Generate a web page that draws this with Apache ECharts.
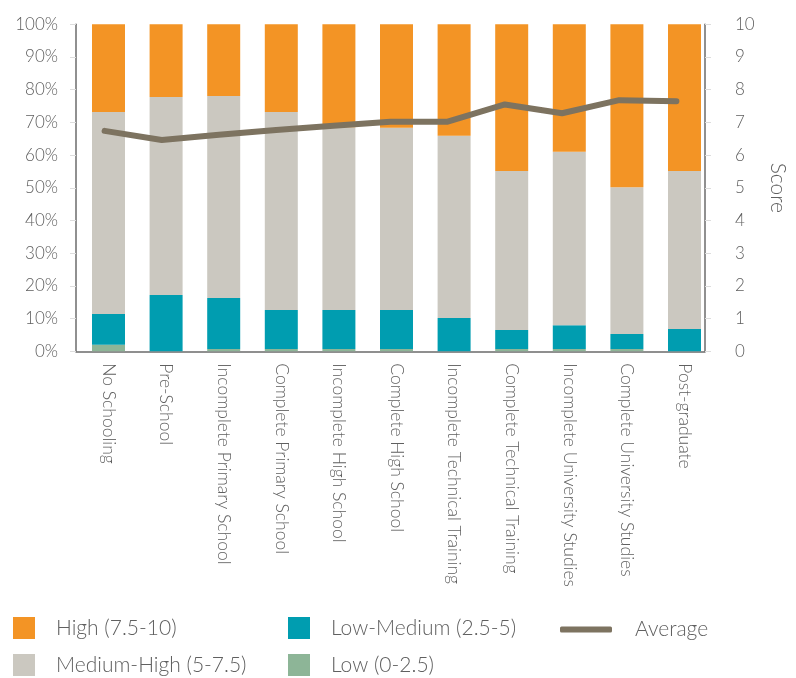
<!DOCTYPE html>
<html>
<head>
<meta charset="utf-8">
<script src="https://cdn.jsdelivr.net/npm/echarts@6/dist/echarts.min.js"></script>
<style>
  html, body { margin: 0; padding: 0; background: #fff; }
  #chart { width: 796px; height: 678px; }
</style>
</head>
<body>
<div id="chart"></div>
<script>
// Education levels
const categories = [
  'No Schooling', 'Pre-School', 'Incomplete Primary School', 'Complete Primary School',
  'Incomplete High School', 'Complete High School', 'Incomplete Technical Training',
  'Complete Technical Training', 'Incomplete University Studies',
  'Complete University Studies', 'Post-graduate'
];

// Share of respondents per score band (%)
const lowShare        = [2.0, 0.0, 0.7, 0.7, 0.7, 0.7, 0.0, 0.7, 0.7, 0.7, 0.0];
const lowMediumShare  = [9.4, 17.2, 15.6, 11.9, 11.9, 11.9, 10.2, 5.8, 7.3, 4.6, 6.8];
const mediumHighShare = [61.8, 60.6, 61.8, 60.6, 55.9, 55.8, 55.7, 48.6, 53.0, 44.9, 48.3];
const highShare       = [26.8, 22.2, 21.9, 26.8, 31.5, 31.6, 34.1, 44.9, 39.0, 49.8, 44.9];

// Average score (0-10)
const averageScore = [6.74, 6.46, 6.62, 6.77, 6.9, 7.02, 7.02, 7.55, 7.28, 7.68, 7.65];

const FONT = 'Lato';
const TXT = '#606060';

const chart = echarts.init(document.getElementById('chart'), null, { renderer: 'canvas' });

const barStyle = (name, color, data) => ({
  name, type: 'bar', stack: 'share', data,
  xAxisIndex: 0, yAxisIndex: 0,
  barWidth: 33,
  itemStyle: { color },
  emphasis: { disabled: true }
});

// One legend box per entry so the 3-column, 2-row layout is explicit
const legendText = { fontFamily: FONT, fontSize: 21, fontWeight: 300, color: TXT, padding: [0, 0, 0, 16] };
const legendItem = (name, left, top, extra) => Object.assign({
  left, top,
  data: [name],
  itemWidth: 22, itemHeight: 22,
  icon: 'rect',
  selectedMode: false,
  padding: 0,
  textStyle: legendText
}, extra || {});

chart.setOption({
  animation: false,
  grid: [
    { left: 79.7, right: 82.7, top: 24.3, bottom: 326.7 },
    { left: 76, right: 74, top: 24.3, bottom: 326.7 }
  ],
  legend: [
    legendItem('High (7.5-10)', 13, 617),
    legendItem('Medium-High (5-7.5)', 13, 654),
    legendItem('Low-Medium (2.5-5)', 288, 617),
    legendItem('Low (0-2.5)', 288, 654),
    legendItem('Average', 560, 619, {
      itemWidth: 52, itemHeight: 6, icon: 'roundRect',
      textStyle: Object.assign({}, legendText, { padding: [0, 0, 0, 18] })
    })
  ],
  xAxis: [
    {
      type: 'category', gridIndex: 0, data: categories,
      axisLine: { show: false }, axisTick: { show: false },
      axisLabel: {
        rotate: -90, interval: 0, margin: 12,
        fontFamily: FONT, fontSize: 17.5, fontWeight: 300, color: TXT
      }
    },
    {
      type: 'category', gridIndex: 1, data: categories,
      axisLine: { show: true, lineStyle: { color: '#6b6b6b', width: 1.5 } },
      axisTick: { show: false }, axisLabel: { show: false }
    }
  ],
  yAxis: [
    { type: 'value', gridIndex: 0, min: 0, max: 100, show: false },
    {
      type: 'value', gridIndex: 1, position: 'left', min: 0, max: 100, interval: 10,
      axisLine: { show: true, lineStyle: { color: '#6b6b6b', width: 1.5 } },
      axisTick: { show: true, length: 6, lineStyle: { color: '#dddddd' } },
      splitLine: { show: false },
      axisLabel: {
        formatter: '{value}%', margin: 18,
        fontFamily: FONT, fontSize: 17, fontWeight: 300, color: TXT
      }
    },
    {
      type: 'value', gridIndex: 1, position: 'right', min: 0, max: 10, interval: 1,
      name: 'Score', nameLocation: 'middle', nameGap: 62, nameRotate: -90,
      nameTextStyle: { fontFamily: FONT, fontSize: 21, fontWeight: 300, color: TXT },
      axisLine: { show: true, lineStyle: { color: '#6b6b6b', width: 1.5 } },
      axisTick: { show: true, length: 6, lineStyle: { color: '#dddddd' } },
      splitLine: { show: false },
      axisLabel: { margin: 30, fontFamily: FONT, fontSize: 17, fontWeight: 300, color: TXT }
    }
  ],
  series: [
    barStyle('Low (0-2.5)', '#8DB597', lowShare),
    barStyle('Low-Medium (2.5-5)', '#009DB0', lowMediumShare),
    barStyle('Medium-High (5-7.5)', '#CBC8C0', mediumHighShare),
    barStyle('High (7.5-10)', '#F39425', highShare),
    {
      name: 'Average', type: 'line', data: averageScore,
      xAxisIndex: 1, yAxisIndex: 2, z: 5,
      symbol: 'none',
      color: '#7D7360',
      lineStyle: { color: '#7D7360', width: 6, cap: 'round', join: 'round' },
      emphasis: { disabled: true }
    }
  ]
});
</script>
</body>
</html>
